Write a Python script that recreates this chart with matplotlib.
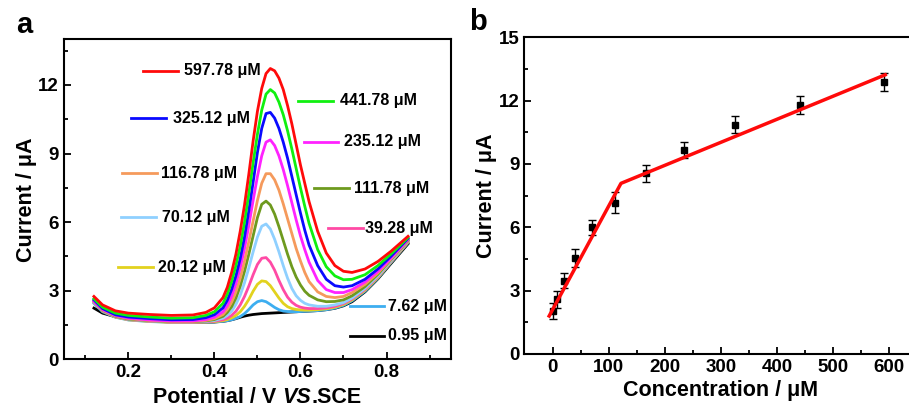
import matplotlib
matplotlib.use("Agg")
import numpy as np
from matplotlib import pyplot as plt
from matplotlib.offsetbox import TextArea, HPacker, AnchoredOffsetbox
from matplotlib.ticker import MultipleLocator

plt.rcParams['font.family'] = ['Liberation Sans', 'DejaVu Sans']
plt.rcParams['font.weight'] = 'bold'

# ---- panel a: DPV curves (potential in V, current in uA) ----
potential = [0.12, 0.14, 0.17, 0.20, 0.25, 0.30, 0.35, 0.38, 0.40,
             0.42, 0.43, 0.44, 0.45, 0.46, 0.47, 0.48, 0.49, 0.50, 0.51, 0.52,
             0.53, 0.54, 0.55, 0.56, 0.57, 0.58, 0.59, 0.60, 0.61, 0.62,
             0.64, 0.66, 0.68, 0.70, 0.72, 0.75, 0.78, 0.81, 0.85]

i_0_95 = [2.24, 2.02, 1.86, 1.76, 1.68, 1.63, 1.62, 1.62, 1.63,
          1.66, 1.69, 1.73, 1.78, 1.84, 1.89, 1.93, 1.96, 1.98, 2.00, 2.01,
          2.02, 2.03, 2.04, 2.05, 2.06, 2.07, 2.08, 2.09, 2.10, 2.11,
          2.13, 2.17, 2.23, 2.34, 2.52, 2.95, 3.52, 4.18, 5.05]
i_7_62 = [2.45, 2.08, 1.84, 1.72, 1.65, 1.62, 1.62, 1.62, 1.64,
          1.66, 1.69, 1.73, 1.79, 1.87, 2.00, 2.18, 2.38, 2.52, 2.57, 2.52,
          2.40, 2.27, 2.17, 2.11, 2.09, 2.08, 2.08, 2.09, 2.10, 2.11,
          2.13, 2.17, 2.24, 2.36, 2.56, 2.98, 3.55, 4.22, 5.10]
i_20_12 = [2.50, 2.11, 1.85, 1.73, 1.66, 1.62, 1.62, 1.63, 1.65,
           1.69, 1.74, 1.81, 1.92, 2.08, 2.32, 2.62, 2.98, 3.28, 3.43, 3.40,
           3.22, 2.95, 2.68, 2.45, 2.30, 2.22, 2.18, 2.16, 2.15, 2.15,
           2.17, 2.21, 2.28, 2.40, 2.60, 3.02, 3.58, 4.25, 5.12]
i_39_28 = [2.50, 2.12, 1.86, 1.74, 1.67, 1.63, 1.63, 1.64, 1.67,
           1.73, 1.80, 1.92, 2.10, 2.38, 2.75, 3.20, 3.70, 4.15, 4.42, 4.45,
           4.25, 3.90, 3.45, 3.05, 2.72, 2.50, 2.36, 2.28, 2.24, 2.22,
           2.22, 2.25, 2.32, 2.44, 2.64, 3.06, 3.62, 4.28, 5.15]
i_70_12 = [2.52, 2.14, 1.87, 1.75, 1.68, 1.64, 1.64, 1.66, 1.70,
           1.80, 1.92, 2.10, 2.40, 2.80, 3.35, 4.00, 4.70, 5.35, 5.82, 5.92,
           5.70, 5.25, 4.70, 4.10, 3.55, 3.10, 2.78, 2.58, 2.45, 2.38,
           2.32, 2.32, 2.38, 2.48, 2.68, 3.10, 3.65, 4.30, 5.18]
i_111_78 = [2.55, 2.15, 1.88, 1.76, 1.69, 1.65, 1.65, 1.68, 1.74,
            1.88, 2.05, 2.30, 2.68, 3.20, 3.85, 4.60, 5.40, 6.20, 6.78, 6.92,
            6.75, 6.35, 5.80, 5.20, 4.60, 4.05, 3.60, 3.25, 2.98, 2.80,
            2.60, 2.52, 2.53, 2.60, 2.78, 3.18, 3.72, 4.35, 5.20]
i_116_78 = [2.55, 2.16, 1.90, 1.78, 1.70, 1.66, 1.66, 1.70, 1.78,
            1.96, 2.18, 2.50, 2.95, 3.55, 4.30, 5.15, 6.05, 6.95, 7.70, 8.12,
            8.12, 7.85, 7.40, 6.80, 6.15, 5.50, 4.85, 4.30, 3.80, 3.40,
            2.95, 2.75, 2.70, 2.75, 2.92, 3.28, 3.78, 4.38, 5.22]
i_235_12 = [2.55, 2.18, 1.92, 1.80, 1.72, 1.68, 1.68, 1.74, 1.84,
            2.08, 2.35, 2.75, 3.30, 4.00, 4.85, 5.85, 6.95, 8.00, 8.90, 9.50,
            9.60, 9.35, 8.90, 8.30, 7.60, 6.85, 6.10, 5.40, 4.80, 4.25,
            3.45, 3.05, 2.92, 2.92, 3.05, 3.38, 3.85, 4.42, 5.25]
i_325_12 = [2.60, 2.22, 1.95, 1.85, 1.78, 1.73, 1.74, 1.82, 1.95,
            2.25, 2.58, 3.05, 3.65, 4.40, 5.35, 6.50, 7.75, 9.05, 10.10, 10.75,
            10.80, 10.55, 10.10, 9.50, 8.80, 8.00, 7.20, 6.40, 5.65, 5.00,
            4.10, 3.50, 3.22, 3.16, 3.22, 3.50, 3.95, 4.50, 5.28]
i_441_78 = [2.65, 2.28, 2.02, 1.92, 1.85, 1.80, 1.82, 1.92, 2.08,
            2.45, 2.85, 3.40, 4.10, 4.95, 6.00, 7.25, 8.60, 9.85, 10.90, 11.60,
            11.80, 11.65, 11.25, 10.70, 10.00, 9.20, 8.35, 7.50, 6.70, 5.95,
            4.80, 4.05, 3.65, 3.48, 3.50, 3.70, 4.10, 4.60, 5.32]
i_597_78 = [2.75, 2.38, 2.12, 2.02, 1.96, 1.92, 1.94, 2.05, 2.25,
            2.70, 3.15, 3.80, 4.60, 5.60, 6.75, 8.10, 9.55, 10.85, 11.85, 12.50,
            12.72, 12.62, 12.30, 11.80, 11.10, 10.30, 9.40, 8.50, 7.70, 6.90,
            5.60, 4.65, 4.10, 3.85, 3.80, 3.95, 4.28, 4.72, 5.38]

curve_labels = ['0.95 μM', '7.62 μM', '20.12 μM', '39.28 μM', '70.12 μM',
                '111.78 μM', '116.78 μM', '235.12 μM', '325.12 μM',
                '441.78 μM', '597.78 μM']
curves = [i_0_95, i_7_62, i_20_12, i_39_28, i_70_12, i_111_78,
          i_116_78, i_235_12, i_325_12, i_441_78, i_597_78]
colors = ['#000000', '#3daef0', '#e2d21e', '#ff4aa5', '#8fd0ff', '#6e9a1e',
          '#f59a5c', '#ff22ff', '#0a0aff', '#10f010', '#ff0a0a']

# ---- panel b: calibration ----
conc = [0.95, 7.62, 20.12, 39.28, 70.12, 111.78, 166.78, 235.12, 325.12, 441.78, 590.0]
current = [2.04, 2.59, 3.47, 4.53, 5.99, 7.16, 8.56, 9.65, 10.85, 11.80, 12.89]
err = [0.36, 0.41, 0.36, 0.42, 0.36, 0.50, 0.40, 0.38, 0.40, 0.42, 0.43]
fit_x = [-6, 122, 593]
fit_y = [1.80, 8.08, 13.22]

fig = plt.figure(figsize=(9.09, 4.09), dpi=100)
ax1 = fig.add_axes([0.0702, 0.1215, 0.426, 0.7825])
ax2 = fig.add_axes([0.577, 0.1345, 0.432, 0.7745])

for y, c in zip(curves, colors):
    ax1.plot(potential, y, color=c, lw=2.0, solid_joinstyle='round')

# label positions in axes fraction: (line start, line end, text x, y)
label_pos = [(0.739, 0.828, 0.838, 0.074), (0.739, 0.828, 0.838, 0.166),
             (0.141, 0.231, 0.243, 0.288), (0.683, 0.772, 0.778, 0.410),
             (0.147, 0.237, 0.254, 0.444), (0.646, 0.736, 0.749, 0.534),
             (0.150, 0.240, 0.251, 0.581), (0.621, 0.709, 0.724, 0.679),
             (0.174, 0.264, 0.283, 0.753), (0.606, 0.696, 0.712, 0.808),
             (0.205, 0.296, 0.310, 0.901)]
for (x0, x1, xt, yy), c, lab in zip(label_pos, colors, curve_labels):
    ax1.plot([x0, x1], [yy, yy], color=c, lw=2.0, transform=ax1.transAxes)
    ax1.text(xt, yy, lab, transform=ax1.transAxes, fontsize=11.5,
             fontweight='bold', va='center', ha='left')

ax1.set_xlim(0.05, 0.95)
ax1.set_ylim(0, 14)
ax1.xaxis.set_major_locator(MultipleLocator(0.2))
ax1.xaxis.set_minor_locator(MultipleLocator(0.1))
ax1.yaxis.set_major_locator(MultipleLocator(3))
ax1.yaxis.set_minor_locator(MultipleLocator(1.5))
ax1.set_xticks([0.2, 0.4, 0.6, 0.8])
ax1.set_ylabel('Current / μA', fontsize=15.5, fontweight='bold', labelpad=1)

# x label with italic "VS"
parts = [TextArea('Potential / V ', textprops=dict(fontsize=15.5, fontweight='bold')),
         TextArea('VS', textprops=dict(fontsize=15.5, fontweight='bold', style='italic')),
         TextArea('.SCE', textprops=dict(fontsize=15.5, fontweight='bold'))]
box = HPacker(children=parts, align='baseline', pad=0, sep=0)
anchored = AnchoredOffsetbox(loc='upper center', child=box, frameon=False,
                             bbox_to_anchor=(0.5, -0.07), bbox_transform=ax1.transAxes,
                             borderpad=0)
ax1.add_artist(anchored)

ax2.errorbar(conc, current, yerr=err, fmt='s', color='black', ms=5,
             ecolor='black', elinewidth=1.0, capsize=3, capthick=1.0, zorder=3)
ax2.plot(fit_x, fit_y, color='#ff0a0a', lw=2.5, zorder=4)
ax2.set_xlim(-50, 650)
ax2.set_ylim(0, 15)
ax2.xaxis.set_major_locator(MultipleLocator(100))
ax2.xaxis.set_minor_locator(MultipleLocator(50))
ax2.yaxis.set_major_locator(MultipleLocator(3))
ax2.yaxis.set_minor_locator(MultipleLocator(1.5))
ax2.set_xlabel('Concentration / μM', fontsize=15.5, fontweight='bold', labelpad=3)
ax2.set_ylabel('Current / μA', fontsize=15.5, fontweight='bold', labelpad=1)

for ax in (ax1, ax2):
    for s in ax.spines.values():
        s.set_linewidth(1.5)
    ax.tick_params(which='both', direction='in', top=False, right=False,
                   labelsize=13.5, width=1.3)
    ax.tick_params(which='major', length=5)
    ax.tick_params(which='minor', length=3)
    for t in ax.get_xticklabels() + ax.get_yticklabels():
        t.set_fontweight('bold')

fig.text(0.018, 0.94, 'a', fontsize=21, fontweight='bold', va='center')
fig.text(0.516, 0.945, 'b', fontsize=21, fontweight='bold', va='center')

fig.savefig('out.png', dpi=100)
